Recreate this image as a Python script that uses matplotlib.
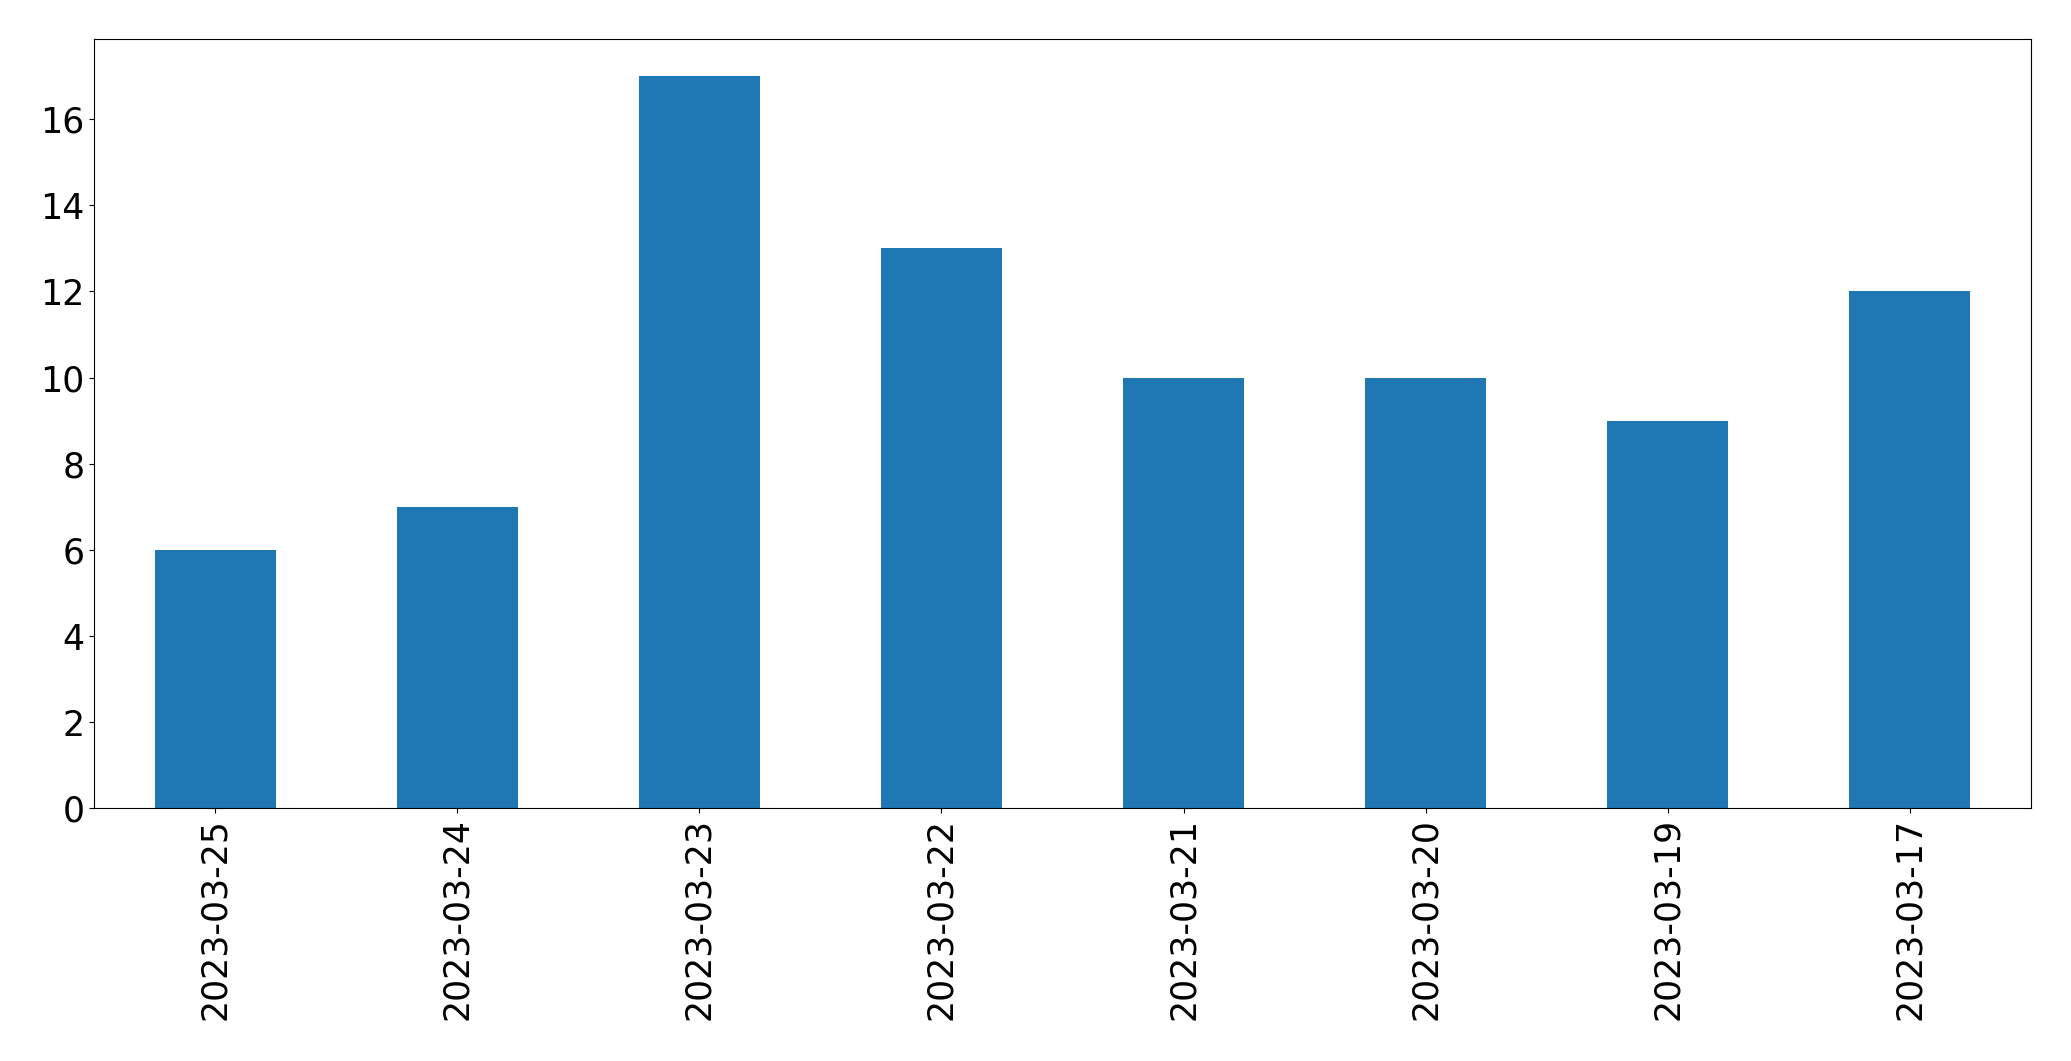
import matplotlib
matplotlib.use('Agg')
import matplotlib.pyplot as plt

# daily counts, newest first
dates = ['2023-03-25', '2023-03-24', '2023-03-23', '2023-03-22',
         '2023-03-21', '2023-03-20', '2023-03-19', '2023-03-17']
counts = [6, 7, 17, 13, 10, 10, 9, 12]

fig, ax = plt.subplots(figsize=(20.71, 10.61), dpi=100)
x = range(len(dates))
ax.bar(x, counts, width=0.5, color='#1f77b4')
ax.set_xlim(-0.5, len(dates) - 0.5)
ax.set_xticks(list(x))
ax.set_xticklabels(dates, rotation=90)
ax.tick_params(labelsize=25)

plt.subplots_adjust(left=0.0454, right=0.9807, top=0.963, bottom=0.238)
plt.savefig('out.png', dpi=100)
